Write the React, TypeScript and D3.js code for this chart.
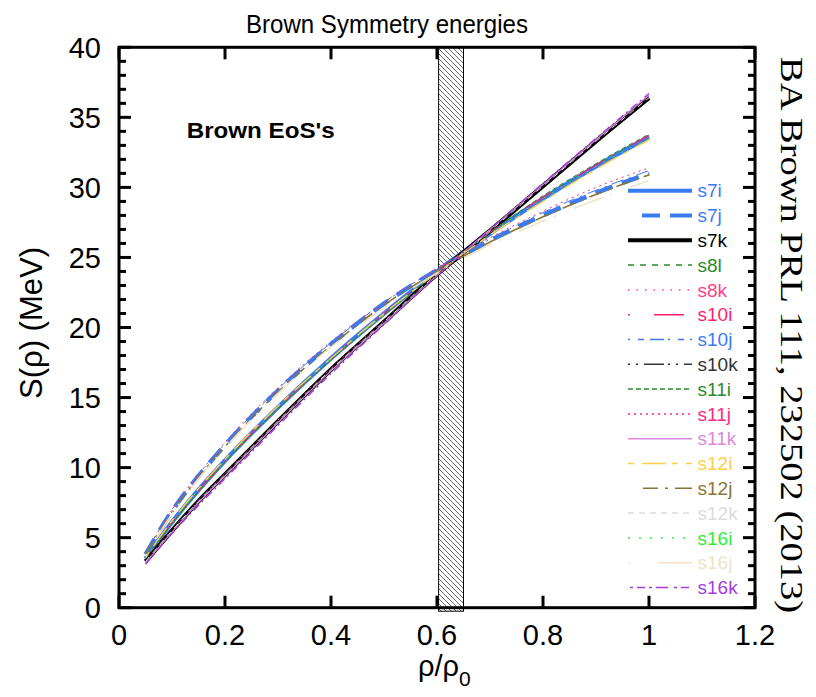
import React from "react";
import * as d3 from "d3";

const rho = [0.05, 0.1, 0.15, 0.2, 0.3, 0.4, 0.5, 0.6, 0.7, 0.8, 0.9, 1.0];

const s7i = [3.5, 6.1, 8.4, 10.5, 14.3, 17.8, 21.0, 24.0, 26.7, 29.2, 31.5, 33.6];
const s7j = [3.8, 6.9, 9.4, 11.6, 15.5, 18.8, 21.7, 24.1, 26.2, 28.0, 29.6, 31.0];
const s7k = [3.3, 5.5, 7.6, 9.5, 13.3, 17.0, 20.4, 23.8, 26.9, 30.1, 33.3, 36.4];
const s8l = [3.5, 6.0, 8.3, 10.4, 14.2, 17.7, 20.9, 24.0, 26.8, 29.3, 31.6, 33.7];
const s8k = [3.2, 5.5, 7.6, 9.6, 13.4, 17.1, 20.5, 23.8, 27.0, 30.2, 33.4, 36.5];
const s10i = [3.6, 6.1, 8.4, 10.5, 14.3, 17.8, 21.0, 24.0, 26.8, 29.3, 31.6, 33.7];
const s10j = [3.9, 7.0, 9.5, 11.7, 15.6, 18.9, 21.8, 24.2, 26.3, 28.2, 29.8, 31.2];
const s10k = [3.3, 5.6, 7.7, 9.6, 13.4, 17.0, 20.4, 23.8, 27.0, 30.2, 33.4, 36.5];
const s11i = [3.5, 6.0, 8.3, 10.4, 14.2, 17.7, 20.9, 23.9, 26.8, 29.4, 31.7, 33.8];
const s11j = [3.9, 7.0, 9.5, 11.8, 15.7, 19.0, 21.8, 24.2, 26.4, 28.3, 30.0, 31.4];
const s11k = [3.2, 5.4, 7.5, 9.4, 13.2, 16.9, 20.3, 23.7, 27.0, 30.2, 33.4, 36.6];
const s12i = [3.6, 6.2, 8.5, 10.6, 14.4, 17.8, 21.0, 23.9, 26.6, 29.0, 31.3, 33.4];
const s12j = [3.8, 6.8, 9.3, 11.5, 15.4, 18.7, 21.6, 24.0, 26.1, 27.9, 29.5, 30.9];
const s12k = [3.3, 5.5, 7.6, 9.5, 13.3, 17.0, 20.4, 23.8, 26.9, 30.1, 33.3, 36.4];
const s16i = [3.5, 6.1, 8.4, 10.5, 14.3, 17.8, 20.9, 23.9, 26.7, 29.2, 31.5, 33.5];
const s16j = [3.7, 6.7, 9.2, 11.4, 15.3, 18.6, 21.4, 23.9, 25.9, 27.6, 29.1, 30.5];
const s16k = [3.1, 5.3, 7.3, 9.2, 13.0, 16.7, 20.2, 23.7, 27.0, 30.3, 33.5, 36.7];

const seriesNames = ["s7i", "s7j", "s7k", "s8l", "s8k", "s10i", "s10j", "s10k", "s11i", "s11j", "s11k", "s12i", "s12j", "s12k", "s16i", "s16j", "s16k"];
const seriesValues = [s7i, s7j, s7k, s8l, s8k, s10i, s10j, s10k, s11i, s11j, s11k, s12i, s12j, s12k, s16i, s16j, s16k];
const seriesColors = ["#3b7bf2", "#3b7bf2", "#000000", "#2a8a2a", "#ff3d8b", "#ff1f6e", "#3b7bf2", "#333333", "#2a8a2a", "#ff2a80", "#dd88dd", "#ffd045", "#8b7535", "#dcdcdc", "#33ee33", "#efe4c8", "#a23ddf"];
const seriesWidths = [4.5, 4.5, 4.5, 1, 1, 1.2, 1, 1, 1, 1, 1.2, 1.4, 1.6, 1, 1, 1.6, 1.4];
const seriesDashes = ["", "18,10", "", "5,5", "1.5,6", "2,20,30,10", "2,6,12,6", "2,5,2,5,14,5", "5,3", "2,4", "", "6,8,22,6", "14,6,3,6", "6,5", "2,8", "2,20,30,8", "8,4,2,4"];
const legendDashes = ["", "0,14,18,10,22", "", "6,6", "1.5,7", "2,24,30,10", "2,8,6,6,14,4", "2,6,2,6,20,4", "5,3", "2,4", "", "6,8,24,6", "0,15,15,7,3,7,15", "6,5", "2,9", "2,28,36", "0,2,3,4,8,4,3,4,12,4"];

const xTicks = [0, 0.2, 0.4, 0.6, 0.8, 1, 1.2];
const yTicks = [0, 5, 10, 15, 20, 25, 30, 35, 40];
const bandRange = [0.603, 0.65];

export default function App() {
  const L = 119, R = 755, T = 47.3, B = 607.7;
  const x = d3.scaleLinear().domain([0, 1.2]).range([L, R]);
  const y = d3.scaleLinear().domain([0, 40]).range([B, T]);
  const line = d3
    .line<number>()
    .x((_, i) => x(rho[i]))
    .y((d) => y(d))
    .curve(d3.curveMonotoneX);

  const minorY = d3.range(0, 41, 1).filter((v) => v % 5 !== 0);
  const font = "Arial, 'Liberation Sans', Helvetica, sans-serif";
  const legendY0 = 190.7;
  const legendStep = 24.8;

  return (
    <svg width={816} height={697} style={{ position: "absolute", left: 0, top: 0, background: "#fff" }} fontFamily={font}>
      <defs>
        <pattern id="hatch" patternUnits="userSpaceOnUse" width={5} height={5}>
          <rect width={5} height={5} fill="#fff" />
          <path d="M-1,-1 L6,6 M-1,4 L1,6 M4,-1 L6,1" stroke="#444" strokeWidth={0.8} />
        </pattern>
        <clipPath id="plotclip">
          <rect x={L} y={T} width={R - L} height={B - T} />
        </clipPath>
      </defs>
      <rect width={816} height={697} fill="#fff" />

      {/* title */}
      <text x={387} y={33} fontSize={26} textAnchor="middle" textLength={282} lengthAdjust="spacingAndGlyphs">Brown Symmetry energies</text>

      {/* hatched band */}
      <rect
        x={x(bandRange[0])}
        y={T}
        width={x(bandRange[1]) - x(bandRange[0])}
        height={y(-0.25) - T}
        fill="url(#hatch)"
        stroke="#000"
        strokeWidth={1}
      />

      {/* curves: thick first, thin on top */}
      <g clipPath="url(#plotclip)" fill="none">
        {seriesValues.map((vals, i) => (
          <path
            key={seriesNames[i]}
            d={line(vals) || ""}
            stroke={seriesColors[i]}
            strokeWidth={seriesWidths[i]}
            strokeDasharray={seriesDashes[i] || undefined}
          />
        ))}
      </g>

      {/* frame */}
      <rect x={L} y={T} width={R - L} height={B - T} fill="none" stroke="#000" strokeWidth={3} />

      {/* y ticks left & right */}
      {yTicks.map((t) => (
        <g key={"y" + t}>
          <line x1={L} x2={L + 12} y1={y(t)} y2={y(t)} stroke="#000" strokeWidth={3} />
          <line x1={R} x2={R - 12} y1={y(t)} y2={y(t)} stroke="#000" strokeWidth={3} />
          <text x={101} y={y(t)} dy="0.36em" fontSize={29} textAnchor="end">{t}</text>
        </g>
      ))}
      {minorY.map((t) => (
        <g key={"ym" + t}>
          <line x1={L} x2={L + 7} y1={y(t)} y2={y(t)} stroke="#000" strokeWidth={3} />
          <line x1={R} x2={R - 7} y1={y(t)} y2={y(t)} stroke="#000" strokeWidth={3} />
        </g>
      ))}

      {/* x ticks bottom & top */}
      {xTicks.map((t) => (
        <g key={"x" + t}>
          <line x1={x(t)} x2={x(t)} y1={B} y2={B - 12} stroke="#000" strokeWidth={3} />
          <line x1={x(t)} x2={x(t)} y1={T} y2={T + 12} stroke="#000" strokeWidth={3} />
          <text x={x(t)} y={645} fontSize={29} textAnchor="middle">{t}</text>
        </g>
      ))}

      {/* axis titles */}
      <text transform="translate(42,323) rotate(-90)" fontSize={31} textAnchor="middle">S(ρ) (MeV)</text>
      <text x={418} y={676} fontSize={29}>
        ρ/ρ<tspan fontSize={21} dy={10}>0</tspan>
      </text>

      {/* annotation */}
      <text x={186.7} y={138.3} fontSize={22} fontWeight="bold" textLength={148} lengthAdjust="spacingAndGlyphs">Brown EoS's</text>

      {/* reference text */}
      <text
        transform="translate(781,57) rotate(90)"
        fontSize={32}
        fontFamily="'Liberation Serif', 'Times New Roman', serif"
        textLength={556}
        lengthAdjust="spacingAndGlyphs"
      >
        BA Brown PRL 111, 232502 (2013)
      </text>

      {/* legend */}
      {seriesNames.map((name, i) => {
        const ly = legendY0 + i * legendStep;
        return (
          <g key={"lg" + name}>
            <line
              x1={628}
              x2={692}
              y1={ly}
              y2={ly}
              stroke={seriesColors[i]}
              strokeWidth={seriesWidths[i] > 2 ? 4 : 1.5}
              strokeDasharray={legendDashes[i] || undefined}
            />
            <text x={697.5} y={ly} dy="0.35em" fontSize={19} fill={seriesColors[i]}>{name}</text>
          </g>
        );
      })}
    </svg>
  );
}
